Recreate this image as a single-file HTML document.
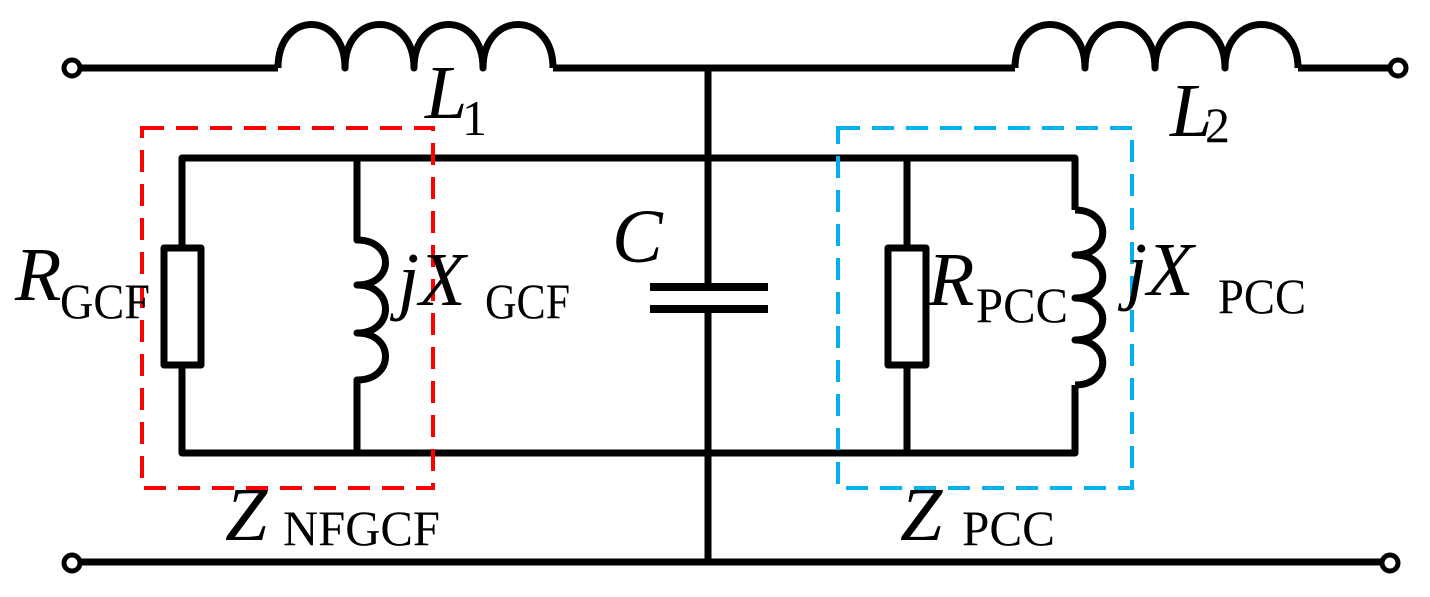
<!DOCTYPE html>
<html><head><style>body{margin:0;background:#fff}svg{display:block}</style></head><body>
<svg width="1430" height="597" viewBox="0 0 1430 597" xmlns="http://www.w3.org/2000/svg">
<g fill="none" stroke="#000" stroke-width="7" stroke-linejoin="round">
<path d="M80 68 H278"/>
<path d="M278 68 C278 10 345 10 345 68 C345 10 414 10 414 68 C414 10 483 10 483 68 C483 10 553 10 553 68"/>
<path d="M553 68 H1015"/>
<path d="M1015 68 C1015 10 1085 10 1085 68 C1085 10 1155 10 1155 68 C1155 10 1225 10 1225 68 C1225 10 1298 10 1298 68"/>
<path d="M1298 68 H1390"/>
<circle cx="72" cy="68" r="8" stroke-width="5"/>
<circle cx="1398" cy="68" r="8" stroke-width="5"/>
<path d="M80 562 H1382"/>
<circle cx="72" cy="563" r="8" stroke-width="5"/>
<circle cx="1390" cy="563" r="8" stroke-width="5"/>
<path d="M708 68 V287 M708 309 V560"/>
<path d="M650 287 H768 M650 309 H768" stroke-width="8"/>
<path d="M182 248 V158 H1075 V210"/>
<path d="M182 365 V453 H1075 V385"/>
<rect x="164" y="248" width="37" height="117"/>
<path d="M357 158 V240 C395 240 395 285 357 285 C395 285 395 333 357 333 C395 333 395 380 357 380 V453"/>
<path d="M907 158 V248 M907 365 V453"/>
<rect x="888" y="248" width="38" height="117"/>
<path d="M1075 210 C1112 210 1112 255 1075 255 C1112 255 1112 298 1075 298 C1112 298 1112 340 1075 340 C1112 340 1112 385 1075 385"/>
</g>
<rect x="142" y="128" width="291" height="360" fill="none" stroke="#f00" stroke-width="4" stroke-dasharray="22,12"/>
<rect x="838" y="128" width="294" height="360" fill="none" stroke="#00b0f0" stroke-width="4" stroke-dasharray="22,12"/>
<g font-family="Liberation Serif, serif" fill="#000">
<text x="425" y="118" font-size="76" font-style="italic">L</text><text x="462" y="135" font-size="50">1</text>
<text x="1170" y="136" font-size="76" font-style="italic">L</text><text x="1205" y="142" font-size="50">2</text>
<text x="15" y="300" font-size="76" font-style="italic">R</text><text x="60" y="318" font-size="50" textLength="90" lengthAdjust="spacingAndGlyphs">GCF</text>
<text x="398" y="305" font-size="76" font-style="italic">jX</text><text x="485" y="318" font-size="50" textLength="85" lengthAdjust="spacingAndGlyphs">GCF</text>
<text x="612" y="262" font-size="76" font-style="italic">C</text>
<text x="928" y="305" font-size="76" font-style="italic">R</text><text x="976" y="322" font-size="50" textLength="92" lengthAdjust="spacingAndGlyphs">PCC</text>
<text x="1126" y="295" font-size="76" font-style="italic">jX</text><text x="1218" y="313" font-size="50" textLength="88" lengthAdjust="spacingAndGlyphs">PCC</text>
<text x="225" y="540" font-size="76" font-style="italic">Z</text><text x="283" y="545" font-size="50" textLength="157" lengthAdjust="spacingAndGlyphs">NFGCF</text>
<text x="900" y="540" font-size="76" font-style="italic">Z</text><text x="962" y="545" font-size="50" textLength="93" lengthAdjust="spacingAndGlyphs">PCC</text>
</g>
</svg>
</body></html>
